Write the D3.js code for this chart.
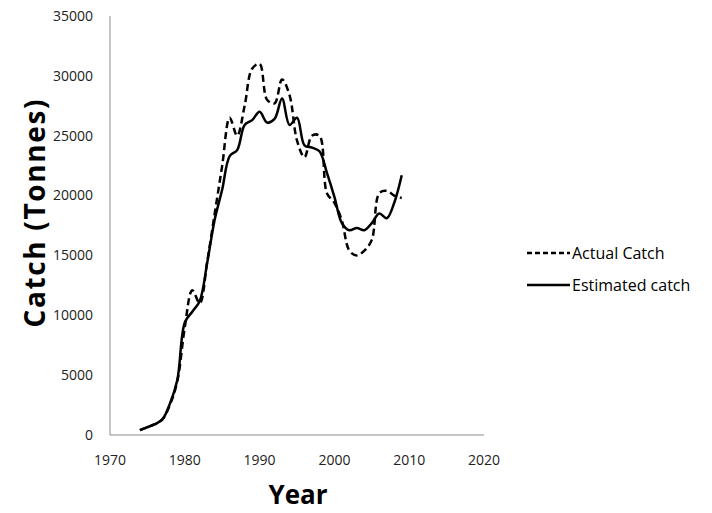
<!DOCTYPE html>
<html>
<head>
<meta charset="utf-8">
<script src="https://cdn.jsdelivr.net/npm/d3@7"></script>
<style>
  body { margin: 0; background: #fff; }
  svg { font-family: "Open Sans", "DejaVu Sans", sans-serif; }
</style>
</head>
<body>
<svg id="chart" width="712" height="513"></svg>
<script>
var years = [1974,1975,1976,1977,1978,1979,1980,1981,1982,1983,1984,1985,1986,1987,1988,1989,1990,1991,1992,1993,1994,1995,1996,1997,1998,1999,2000,2001,2002,2003,2004,2005,2006,2007,2008,2009];

var actual = [400,650,900,1300,2500,4500,9000,12100,11000,14500,18500,22500,26500,25000,27500,30600,31000,28000,27700,29700,28400,24600,23200,25000,25000,20200,19400,17900,15400,15000,15400,16300,20200,20400,20000,19800];

var estimated = [400,650,900,1300,2600,4600,9400,10300,11200,14400,18000,20500,23300,23800,25900,26300,27000,26100,26400,28100,25900,26500,24200,24000,23700,21900,19900,17700,17100,17300,17100,17700,18500,18100,19400,21700];

var xTicks = [1970,1980,1990,2000,2010,2020];
var yTicks = [0,5000,10000,15000,20000,25000,30000,35000];

var series = [
    {name: "Actual Catch", values: actual, dash: "7,4"},
    {name: "Estimated catch", values: estimated, dash: null}
];

var svg = d3.select("#chart"),
    margin = {top: 16, left: 110, bottom: 78, right: 228},
    width = +svg.attr("width"),
    height = +svg.attr("height");

var x = d3.scaleLinear()
    .domain([1970, 2020])
    .range([margin.left, width - margin.right]);

var y = d3.scaleLinear()
    .domain([0, 35000])
    .range([height - margin.bottom, margin.top]);

// axes, Excel style: gray lines, no tick marks
svg.append("line")
    .attr("x1", x(1970)).attr("x2", x(2020))
    .attr("y1", y(0)).attr("y2", y(0))
    .attr("stroke", "#8c8c8c").attr("stroke-width", 1);

svg.append("line")
    .attr("x1", x(1970)).attr("x2", x(1970))
    .attr("y1", y(0)).attr("y2", y(35000))
    .attr("stroke", "#8c8c8c").attr("stroke-width", 1);

svg.selectAll(".xtick")
    .data(xTicks)
    .enter().append("text")
    .attr("class", "xtick")
    .attr("x", d => x(d))
    .attr("y", y(0) + 30)
    .attr("text-anchor", "middle")
    .attr("font-size", 14)
    .attr("fill", "#222")
    .text(d => d);

svg.selectAll(".ytick")
    .data(yTicks)
    .enter().append("text")
    .attr("class", "ytick")
    .attr("x", x(1970) - 17)
    .attr("y", d => y(d))
    .attr("dy", ".35em")
    .attr("text-anchor", "end")
    .attr("font-size", 14)
    .attr("fill", "#222")
    .text(d => d);

svg.append("text")
    .attr("transform", "translate(45," + (y(17500) - 12) + ") rotate(-90)")
    .attr("text-anchor", "middle")
    .attr("font-size", 28)
    .attr("font-weight", "bold")
    .attr("fill", "#000")
    .attr("textLength", 228)
    .attr("lengthAdjust", "spacing")
    .text("Catch (Tonnes)");

svg.append("text")
    .attr("x", (x(1970) + x(2020)) / 2 + 1)
    .attr("y", 504)
    .attr("text-anchor", "middle")
    .attr("font-size", 26)
    .attr("font-weight", "bold")
    .attr("fill", "#000")
    .text("Year");

var line = d3.line()
    .x((d, i) => x(years[i]))
    .y(d => y(d))
    .curve(d3.curveCatmullRom.alpha(0.5));

svg.selectAll(".series")
    .data(series)
    .enter().append("path")
    .attr("class", "series")
    .attr("d", d => line(d.values))
    .attr("fill", "none")
    .attr("stroke", "#000")
    .attr("stroke-width", 2.5)
    .attr("stroke-dasharray", d => d.dash);

var legend = svg.selectAll(".legend")
    .data(series)
    .enter().append("g")
    .attr("class", "legend")
    .attr("transform", (d, i) => "translate(527," + (253 + i * 32) + ")");

legend.append("line")
    .attr("x1", 0).attr("x2", 43)
    .attr("stroke", "#000")
    .attr("stroke-width", 2.5)
    .attr("stroke-dasharray", d => d.dash ? "5,3" : null);

legend.append("text")
    .attr("x", 45)
    .attr("dy", ".35em")
    .attr("font-size", 16)
    .attr("fill", "#000")
    .text(d => d.name);
</script>
</body>
</html>
